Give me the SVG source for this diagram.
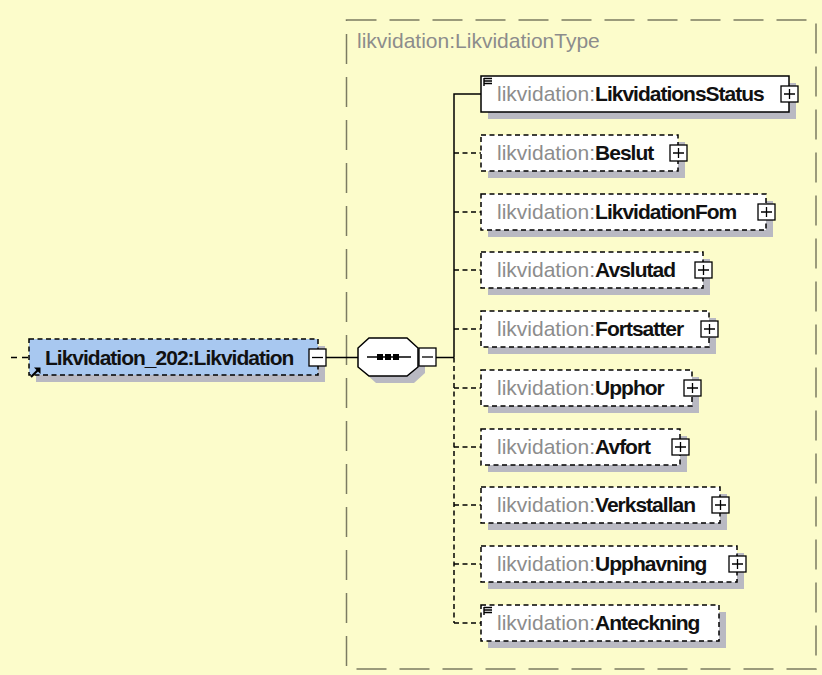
<svg xmlns="http://www.w3.org/2000/svg" width="822" height="675" viewBox="0 0 822 675">
<defs>
<style>
.bg{fill:#fcfccb}
.typebox{fill:none;stroke:#7b7b62;stroke-width:1.5;stroke-dasharray:30 13}
.typelbl{font-family:"Liberation Sans",Arial,sans-serif;font-size:21px;fill:#8c8c8c}
.shadow{fill:#b9b9c2}
.box{fill:#ffffff;stroke:#000;stroke-width:1.5}
.opt{stroke-dasharray:5 3.5}
.main{fill:#a8c8f0}
.lbl{font-family:"Liberation Sans",Arial,sans-serif;font-size:21px}
.pre{fill:#8c8c8c}
.name{font-weight:bold;fill:#111;letter-spacing:-1px}
.btn{fill:#fff;stroke:#000;stroke-width:1.3}
.sym{stroke:#000;stroke-width:1.3;fill:none}
.icon{stroke:#000;stroke-width:1.4;fill:none}
.conn{stroke:#000;stroke-width:1.5;fill:none}
.dash{stroke-dasharray:5 3.5}
</style>
</defs>
<rect class="bg" x="0" y="0" width="822" height="675"/>

<g id="type-box">
<rect class="typebox" x="346.5" y="20" width="469.5" height="649"/>
<text class="typelbl" x="357" y="48">likvidation:LikvidationType</text>
</g>

<g id="connectors">
<path class="conn" d="M11,357.5 H29" stroke-dasharray="6 5"/>
<path class="conn" d="M326,357.5 H358"/>
<path class="conn" d="M436,357.5 H454"/>
<path class="conn" d="M454,357.5 V94 H481"/>
<path class="conn dash" d="M454,357.5 V623"/>
<path class="conn dash" d="M454,153 H481"/>
<path class="conn dash" d="M454,212 H481"/>
<path class="conn dash" d="M454,270 H481"/>
<path class="conn dash" d="M454,329 H481"/>
<path class="conn dash" d="M454,388 H481"/>
<path class="conn dash" d="M454,447 H481"/>
<path class="conn dash" d="M454,505 H481"/>
<path class="conn dash" d="M454,564 H481"/>
<path class="conn dash" d="M454,623 H481"/>
</g>

<g id="root-element">
<rect class="shadow" x="36" y="346" width="289" height="36"/>
<rect class="box main opt" x="29" y="339" width="289" height="36"/>
<text class="lbl" x="45" y="365"><tspan class="name">Likvidation_202:Likvidation</tspan></text>
<path d="M31,377 L38,370" stroke="#000" stroke-width="2.2" fill="none"/>
<polygon points="34,367.5 40.5,367.5 40.5,374" fill="#000"/>
<rect class="btn" x="309" y="349" width="17" height="17"/>
<path class="sym" d="M312,357.5 H323"/>
</g>

<g id="sequence">
<polygon class="shadow" points="376,345 414,345 425,355 425,373 414,383 376,383 365,373 365,355"/>
<polygon class="box" points="369,338 407,338 418,348 418,367 407,376 369,376 358,367 358,348"/>
<path class="conn" d="M367,357 H411"/>
<rect x="377" y="354" width="6" height="6" fill="#000"/>
<rect x="385" y="354" width="6" height="6" fill="#000"/>
<rect x="393" y="354" width="6" height="6" fill="#000"/>
<rect class="btn" x="419" y="348" width="17" height="18"/>
<path class="sym" d="M422,357 H433"/>
</g>

<g id="LikvidationsStatus" transform="translate(481,76)">
<rect class="shadow" x="7" y="7" width="308" height="36"/>
<rect class="box" x="0" y="0" width="308" height="36"/>
<path class="icon" d="M3,2.5 H11 M3,5 H11 M3,7.5 H11 M3,2 V10"/>
<text class="lbl" x="16" y="25"><tspan class="pre">likvidation:</tspan><tspan class="name">LikvidationsStatus</tspan></text>
<rect class="btn" x="300" y="10" width="17" height="16"/>
<path class="sym" d="M303,18 H314 M308.5,13 V23"/>
</g>

<g id="Beslut" transform="translate(481,135)">
<rect class="shadow" x="7" y="7" width="197" height="36"/>
<rect class="box opt" x="0" y="0" width="197" height="36"/>
<text class="lbl" x="16" y="25"><tspan class="pre">likvidation:</tspan><tspan class="name">Beslut</tspan></text>
<rect class="btn" x="189" y="10" width="17" height="16"/>
<path class="sym" d="M192,18 H203 M197.5,13 V23"/>
</g>

<g id="LikvidationFom" transform="translate(481,194)">
<rect class="shadow" x="7" y="7" width="285" height="36"/>
<rect class="box opt" x="0" y="0" width="285" height="36"/>
<text class="lbl" x="16" y="25"><tspan class="pre">likvidation:</tspan><tspan class="name">LikvidationFom</tspan></text>
<rect class="btn" x="277" y="10" width="17" height="16"/>
<path class="sym" d="M280,18 H291 M285.5,13 V23"/>
</g>

<g id="Avslutad" transform="translate(481,252)">
<rect class="shadow" x="7" y="7" width="222" height="36"/>
<rect class="box opt" x="0" y="0" width="222" height="36"/>
<text class="lbl" x="16" y="25"><tspan class="pre">likvidation:</tspan><tspan class="name">Avslutad</tspan></text>
<rect class="btn" x="214" y="10" width="17" height="16"/>
<path class="sym" d="M217,18 H228 M222.5,13 V23"/>
</g>

<g id="Fortsatter" transform="translate(481,311)">
<rect class="shadow" x="7" y="7" width="228" height="36"/>
<rect class="box opt" x="0" y="0" width="228" height="36"/>
<text class="lbl" x="16" y="25"><tspan class="pre">likvidation:</tspan><tspan class="name">Fortsatter</tspan></text>
<rect class="btn" x="220" y="10" width="17" height="16"/>
<path class="sym" d="M223,18 H234 M228.5,13 V23"/>
</g>

<g id="Upphor" transform="translate(481,370)">
<rect class="shadow" x="7" y="7" width="211" height="36"/>
<rect class="box opt" x="0" y="0" width="211" height="36"/>
<text class="lbl" x="16" y="25"><tspan class="pre">likvidation:</tspan><tspan class="name">Upphor</tspan></text>
<rect class="btn" x="203" y="10" width="17" height="16"/>
<path class="sym" d="M206,18 H217 M211.5,13 V23"/>
</g>

<g id="Avfort" transform="translate(481,429)">
<rect class="shadow" x="7" y="7" width="199" height="36"/>
<rect class="box opt" x="0" y="0" width="199" height="36"/>
<text class="lbl" x="16" y="25"><tspan class="pre">likvidation:</tspan><tspan class="name">Avfort</tspan></text>
<rect class="btn" x="191" y="10" width="17" height="16"/>
<path class="sym" d="M194,18 H205 M199.5,13 V23"/>
</g>

<g id="Verkstallan" transform="translate(481,487)">
<rect class="shadow" x="7" y="7" width="239" height="36"/>
<rect class="box opt" x="0" y="0" width="239" height="36"/>
<text class="lbl" x="16" y="25"><tspan class="pre">likvidation:</tspan><tspan class="name">Verkstallan</tspan></text>
<rect class="btn" x="231" y="10" width="17" height="16"/>
<path class="sym" d="M234,18 H245 M239.5,13 V23"/>
</g>

<g id="Upphavning" transform="translate(481,546)">
<rect class="shadow" x="7" y="7" width="256" height="36"/>
<rect class="box opt" x="0" y="0" width="256" height="36"/>
<text class="lbl" x="16" y="25"><tspan class="pre">likvidation:</tspan><tspan class="name">Upphavning</tspan></text>
<rect class="btn" x="248" y="10" width="17" height="16"/>
<path class="sym" d="M251,18 H262 M256.5,13 V23"/>
</g>

<g id="Anteckning" transform="translate(481,605)">
<rect class="shadow" x="7" y="7" width="238" height="36"/>
<rect class="box opt" x="0" y="0" width="238" height="36"/>
<path class="icon" d="M3,2.5 H11 M3,5 H11 M3,7.5 H11 M3,2 V10"/>
<text class="lbl" x="16" y="25"><tspan class="pre">likvidation:</tspan><tspan class="name">Anteckning</tspan></text>
</g>
</svg>
